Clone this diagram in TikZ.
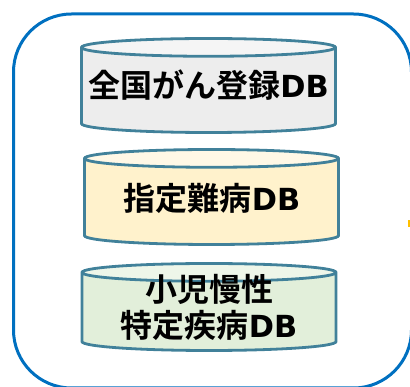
\documentclass[tikz,border=0pt]{standalone}
\usepackage{fontspec}
\setmainfont{Noto Sans CJK JP}[BoldFont={Noto Sans CJK JP Bold}]
\newfontfamily\dbfont{DejaVu Sans}[Scale=0.95]
\usetikzlibrary{shapes.geometric}
\definecolor{framecol}{HTML}{0070C0}
\definecolor{dbline}{HTML}{41819A}
\definecolor{markcol}{HTML}{FFC000}
\definecolor{grayfill}{HTML}{EDEDED}
\definecolor{grayend}{HTML}{F5F5F5}
\definecolor{yellowfill}{HTML}{FFF2CC}
\definecolor{yellowend}{HTML}{FFF8E6}
\definecolor{greenfill}{HTML}{E2EFDA}
\definecolor{greenend}{HTML}{EEF6E9}
\newcommand{\DB}{{\dbfont DB}}
\tikzset{
	frame/.style={draw=framecol,line width=3pt,rounded corners=58pt},
	dbcyl/.style={cylinder,shape border rotate=90,aspect=.07,anchor=shape center,draw=dbline,line width=2.8pt,cylinder uses custom fill,inner sep=0,text width=254pt,minimum width=254pt},
	dblabel/.style={align=center,inner sep=0,font=\fontsize{32}{36}\selectfont\bfseries},
}

\begin{document}
\begin{tikzpicture}[x=1pt,y=-1pt]
	\useasboundingbox (0,0) rectangle (410,387);
	\clip (0,0) rectangle (410,387);
	%%% outer frame
	\draw[frame] (13.5,14) rectangle (411.5,388);
	\fill[markcol] (408,220) rectangle (410,227);
	
	%%% databases
	\node[dbcyl,minimum height=94pt,cylinder body fill=grayfill,cylinder end fill=grayend] (gan) at (208.5,85.5) {};
	\node[dblabel] (gantext) at (208.5,85) {全国がん登録\DB};
	\node[dbcyl,minimum height=95pt,cylinder body fill=yellowfill,cylinder end fill=yellowend] (nanbyo) at (211.5,197) {};
	\node[dblabel] (nanbyotext) at (212,198) {指定難病\DB};
	\node[dbcyl,minimum height=87pt,cylinder body fill=greenfill,cylinder end fill=greenend] (shoni) at (209,307) {};
	\node[dblabel] (shonitext) at (209,307) {小児慢性\\特定疾病\DB};
\end{tikzpicture}
\end{document}
